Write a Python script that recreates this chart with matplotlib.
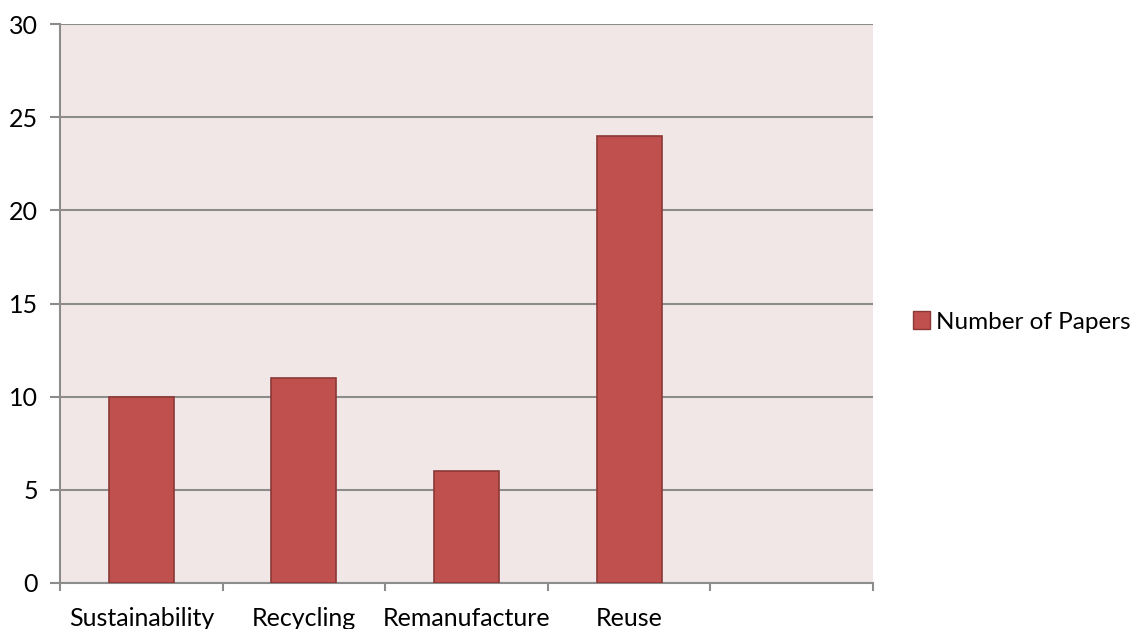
import matplotlib
matplotlib.use("Agg")
import matplotlib.pyplot as plt
from matplotlib.patches import Patch

categories = ["Sustainability", "Recycling", "Remanufacture", "Reuse", ""]
papers = [10, 11, 6, 24, None]
y_ticks = [0, 5, 10, 15, 20, 25, 30]

plt.rcParams["font.family"] = ["Lato", "DejaVu Sans"]

W, H = 1136, 629
fig = plt.figure(figsize=(W / 100, H / 100), dpi=100)
ax = fig.add_axes([60 / W, 46 / H, (873 - 60) / W, (583 - 24) / H])
ax.set_facecolor("#F2E7E7")

xs = [i for i, v in enumerate(papers) if v is not None]
vals = [v for v in papers if v is not None]
ax.bar(xs, vals, width=0.4, color="#C0504D", edgecolor="#8C3836",
       linewidth=1.2, zorder=3)

ax.set_xlim(-0.5, len(categories) - 0.5)
ax.set_ylim(0, 30)
ax.set_yticks(y_ticks)
ax.set_yticklabels([str(t) for t in y_ticks], fontsize=18)
ax.yaxis.grid(True, color="#8C8C8C", linewidth=1.5, zorder=1)
ax.set_axisbelow(True)

# category boundary ticks, labels centred below each slot
ax.set_xticks([i - 0.5 for i in range(len(categories) + 1)])
ax.set_xticklabels([])
ax.set_xticks(range(len(categories)), minor=True)
ax.set_xticklabels(categories, minor=True, fontsize=18)
ax.tick_params(axis="x", which="minor", length=0, pad=17)
ax.tick_params(axis="x", which="major", length=6, color="#8C8C8C", width=1.5)
ax.tick_params(axis="y", length=7, color="#8C8C8C", width=1.5, pad=9)

for side in ("top", "right"):
    ax.spines[side].set_visible(False)
for side in ("left", "bottom"):
    ax.spines[side].set_color("#8C8C8C")
    ax.spines[side].set_linewidth(1.5)

handle = Patch(facecolor="#C0504D", edgecolor="#8C3836", label="Number of Papers")
fig.legend(handles=[handle], loc="center left",
           bbox_to_anchor=(908 / W, 1 - 322 / H), frameon=False,
           fontsize=17.5, handlelength=0.7, handleheight=0.7, handletextpad=0.25,
           borderpad=0.0, borderaxespad=0.2)

fig.savefig("out.png", dpi=100, facecolor="white")
